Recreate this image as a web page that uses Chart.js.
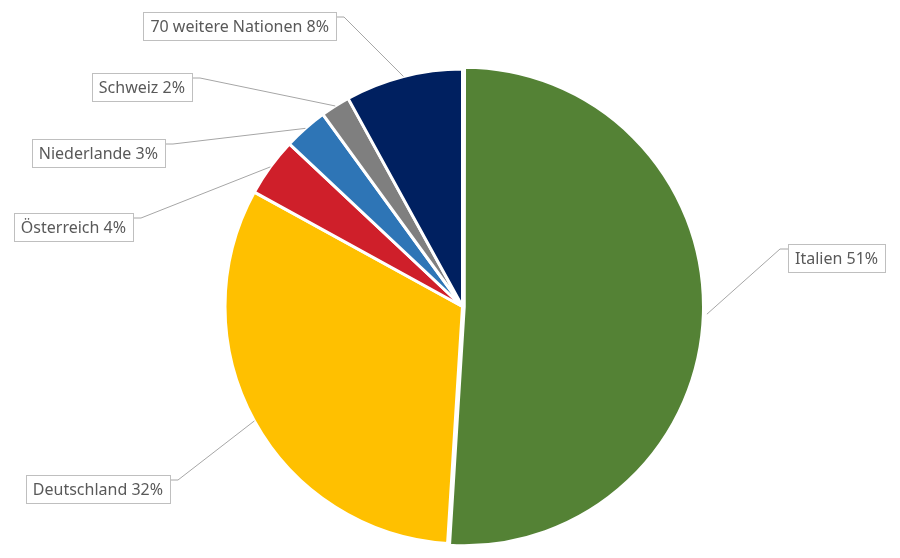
<!DOCTYPE html>
<html lang="de">
<head>
<meta charset="utf-8">
<title>Herkunft der Gäste</title>
<script src="https://cdn.jsdelivr.net/npm/chart.js@4/dist/chart.umd.min.js"></script>
<style>
    html, body { margin: 0; padding: 0; background: #fff; }
    #wrap { width: 900px; height: 558px; }
</style>
</head>
<body>
<div id="wrap"><canvas id="pieChart" width="900" height="558"></canvas></div>
<script>
// Data
const categories = ['Italien', 'Deutschland', 'Österreich', 'Niederlande', 'Schweiz', '70 weitere Nationen'];
const shares = [51, 32, 4, 3, 2, 8];
const sliceColors = ['#548235', '#FFC000', '#CF1F2A', '#2E75B6', '#7F7F7F', '#002060'];

// label box placement (edge next to the leader line, top of box)
const labelBoxes = [
    { side: 'right', x: 788, y: 244 },
    { side: 'left', x: 170, y: 475 },
    { side: 'left', x: 133, y: 213 },
    { side: 'left', x: 165, y: 139 },
    { side: 'left', x: 192, y: 73 },
    { side: 'left', x: 336, y: 12 }
];

const labelFont = '16px "Noto Sans", "Open Sans", sans-serif';

// draws the boxed labels with leader lines
const calloutPlugin = {
    id: 'callouts',
    afterDatasetsDraw(chart) {
        const ctx = chart.ctx;
        const meta = chart.getDatasetMeta(0);
        ctx.save();
        ctx.font = labelFont;
        meta.data.forEach((arc, i) => {
            const p = arc.getProps(['x', 'y', 'startAngle', 'endAngle', 'outerRadius'], true);
            const mid = (p.startAngle + p.endAngle) / 2;
            const r = p.outerRadius + (arc.options.offset || 0);
            const ax = p.x + Math.cos(mid) * r;
            const ay = p.y + Math.sin(mid) * r;

            const text = categories[i] + ' ' + shares[i] + '%';
            const w = ctx.measureText(text).width + 14;
            const h = 28;
            const box = labelBoxes[i];
            const left = box.side === 'left' ? box.x - w : box.x;
            const attachY = box.y + 5;
            const elbowX = box.side === 'left' ? box.x + 8 : box.x - 8;

            ctx.strokeStyle = '#A6A6A6';
            ctx.lineWidth = 1;
            ctx.beginPath();
            ctx.moveTo(ax, ay);
            ctx.lineTo(elbowX, attachY);
            ctx.lineTo(box.x, attachY);
            ctx.stroke();

            ctx.fillStyle = '#fff';
            ctx.fillRect(left, box.y, w, h);
            ctx.strokeStyle = '#BFBFBF';
            ctx.strokeRect(Math.round(left) + 0.5, box.y + 0.5, Math.round(w), h);

            ctx.fillStyle = '#595959';
            ctx.textAlign = 'center';
            ctx.textBaseline = 'middle';
            ctx.fillText(text, left + w / 2, box.y + h / 2 + 1);
        });
        ctx.restore();
    }
};

const ctx = document.getElementById('pieChart').getContext('2d');
new Chart(ctx, {
    type: 'pie',
    data: {
        labels: categories,
        datasets: [{
            data: shares,
            backgroundColor: sliceColors,
            borderColor: '#ffffff',
            borderWidth: 3,
            offset: [7, 0, 0, 0, 0, 0]
        }]
    },
    options: {
        responsive: false,
        animation: false,
        layout: {
            padding: { top: 64, bottom: 9, left: 220, right: 195 }
        },
        plugins: {
            legend: { display: false },
            tooltip: { enabled: false }
        }
    },
    plugins: [calloutPlugin]
});
</script>
</body>
</html>
